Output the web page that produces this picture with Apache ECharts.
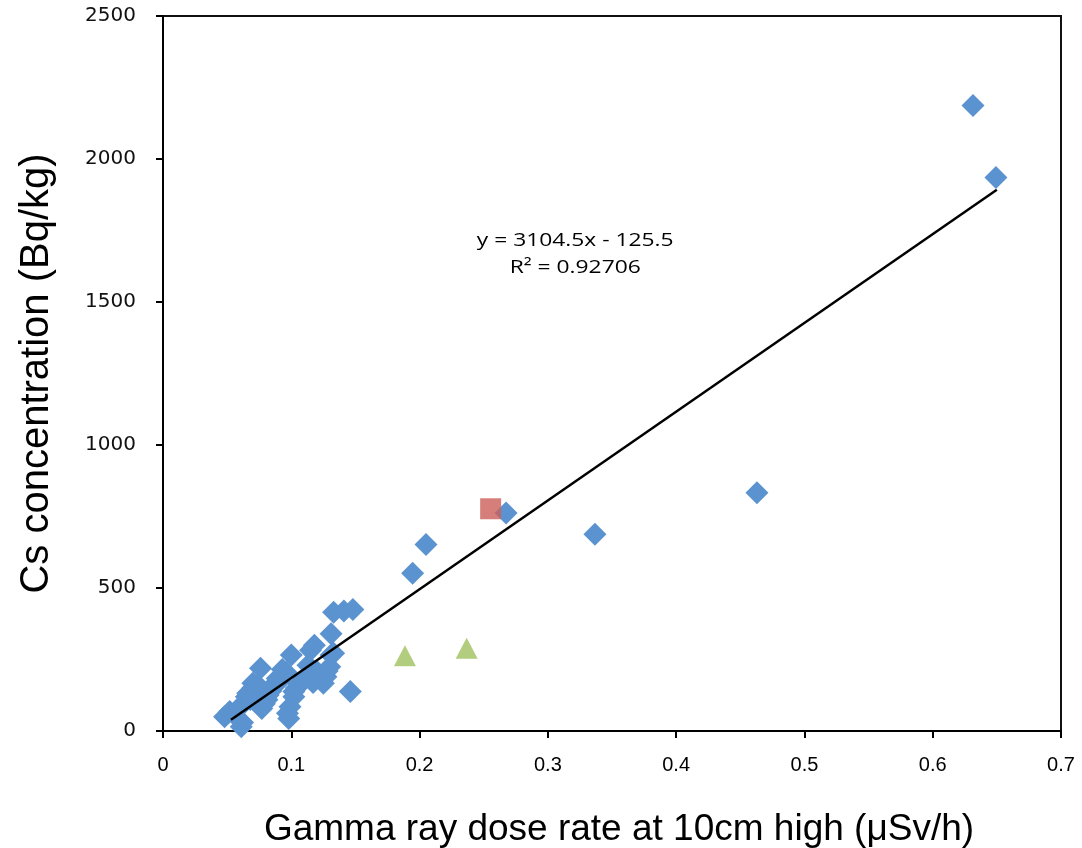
<!DOCTYPE html>
<html>
<head>
<meta charset="utf-8">
<script src="https://cdn.jsdelivr.net/npm/echarts@6/dist/echarts.min.js"></script>
<style>
html,body{margin:0;padding:0;background:#fff;}
#chart{width:1082px;height:848px;}
</style>
</head>
<body>
<div id="chart"></div>
<script>
// Blue diamonds (main samples)
const blueX = [0.048,0.052,0.056,0.059,0.061,0.062,0.063,0.065,0.066,0.068,0.070,0.070,0.072,0.074,0.076,0.077,0.079,0.081,0.082,0.084,0.086,0.089,0.091,0.093,0.096,0.097,0.098,0.099,0.100,0.102,0.102,0.104,0.106,0.109,0.111,0.113,0.115,0.117,0.118,0.120,0.122,0.125,0.127,0.128,0.130,0.131,0.133,0.131,0.133,0.141,0.148,0.146,0.1946,0.205,0.2674,0.3367,0.463,0.6314,0.6493];
const blueY = [50,68,55,80,15,30,97,120,132,110,150,167,140,160,219,79,95,109,126,140,160,184,175,215,205,62,44,85,266,120,138,150,165,178,190,230,282,170,300,208,195,167,190,210,225,266,272,340,415,420,425,138,552,652,762,688,833,2187,1935];
// Red square
const redX = [0.2554];
const redY = [777];
// Green triangles
const greenX = [0.1886,0.2367];
const greenY = [263,289];
// Linear trend line
const trendSlope = 3104.5;
const trendIntercept = -125.5;
const trendRange = [0.053,0.650];
const eqLines = ['y = 3104.5x - 125.5','R\u00b2 = 0.92706'];
// Axes
const xTicks = {min:0,max:0.7,interval:0.1};
const yTicks = {min:0,max:2500,interval:500};
const xTitle = 'Gamma ray dose rate at 10cm high (\u03bcSv/h)';
const yTitle = 'Cs concentration (Bq/kg)';

const zip = (a,b)=>a.map((v,i)=>[v,b[i]]);
const trendData = trendRange.map(x=>[x, trendSlope*x+trendIntercept]);

const chart = echarts.init(document.getElementById('chart'), null, {renderer:'canvas'});
chart.setOption({
  animation:false,
  backgroundColor:'#fff',
  grid:{left:163,right:21,top:16,bottom:117,containLabel:false,outerBoundsMode:'none',show:true,borderColor:'#111',borderWidth:2,backgroundColor:'transparent'},
  xAxis:{
    type:'value',min:xTicks.min,max:xTicks.max,interval:xTicks.interval,
    name:xTitle,nameLocation:'middle',nameGap:80,
    nameTextStyle:{fontFamily:'Liberation Sans',fontSize:37,color:'#000',padding:[0,0,0,14]},
    axisLine:{show:true,onZero:false,lineStyle:{color:'#000',width:2}},
    axisTick:{show:true,inside:false,length:7,lineStyle:{color:'#000',width:2}},
    axisLabel:{margin:24,fontFamily:"'Liberation Sans Narrow','Liberation Sans'",fontSize:20,color:'#000',formatter:v=>String(Math.round(v*10)/10)},
    splitLine:{show:false}
  },
  yAxis:{
    type:'value',min:yTicks.min,max:yTicks.max,interval:yTicks.interval,
    name:yTitle,nameLocation:'middle',nameGap:106,nameRotate:90,
    nameTextStyle:{fontFamily:'Liberation Sans',fontSize:40,color:'#000'},
    axisLine:{show:true,onZero:false,lineStyle:{color:'#000',width:2}},
    axisTick:{show:true,inside:false,length:7,lineStyle:{color:'#000',width:2}},
    axisLabel:{margin:27,fontFamily:'DejaVu Sans',fontSize:20,color:'#111',formatter:v=>String(v)},
    splitLine:{show:false}
  },
  series:[
    {type:'scatter',data:zip(blueX,blueY),symbol:'diamond',symbolSize:[23,23],itemStyle:{color:'#5b93d0',opacity:1},z:2},
    {type:'scatter',data:zip(greenX,greenY),symbol:'triangle',symbolSize:[22,21],itemStyle:{color:'#9fc05e'},z:3},
    {type:'scatter',data:zip(redX,redY),symbol:'rect',symbolSize:[21,21],itemStyle:{color:'#cc5f59'},z:3},
    {type:'line',data:trendData,showSymbol:false,symbol:'none',lineStyle:{color:'#000',width:2.5},z:4,silent:true}
  ],
  graphic:[
    {type:'text',x:719,y:241,scaleX:1.2,originX:719,originY:241,style:{text:eqLines[0],fontFamily:'Open Sans',fontSize:19,fill:'#000',textAlign:'center',textVerticalAlign:'middle'}},
    {type:'text',x:719,y:268,scaleX:1.2,originX:719,originY:268,style:{text:eqLines[1],fontFamily:'Open Sans',fontSize:19,fill:'#000',textAlign:'center',textVerticalAlign:'middle'}}
  ]
});
</script>
</body>
</html>
